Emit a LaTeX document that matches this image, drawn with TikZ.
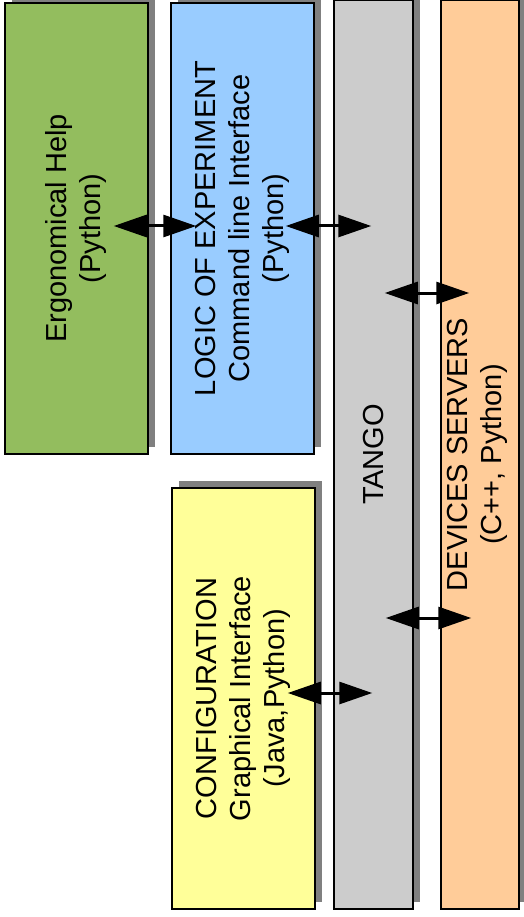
\documentclass[tikz,border=0pt]{standalone}
\usepackage{fontspec}
\setmainfont{Liberation Sans}
\usepackage{tikz}
\usetikzlibrary{arrows.meta,shadows}

\definecolor{HelpGreen}{RGB}{147,189,94}
\definecolor{LogicBlue}{RGB}{153,204,255}
\definecolor{ConfYellow}{RGB}{255,255,153}
\definecolor{TangoGray}{RGB}{204,204,204}
\definecolor{DevOrange}{RGB}{255,204,153}
\definecolor{ShadowGray}{RGB}{128,128,128}

\begin{document}
\begin{tikzpicture}[x=1pt, y=-1pt,
	box/.style={draw, line width=1.5pt, rectangle, inner sep=0pt, drop shadow={shadow xshift=7pt, shadow yshift=7pt, fill=ShadowGray, opacity=1}},
	boxtext/.style={rotate=90, align=center, inner sep=0pt, font=\fontsize{29}{34}\selectfont},
	link/.style={{Triangle[length=33pt, width=22pt]}-{Triangle[length=33pt, width=22pt]}, line width=3pt}]
	\useasboundingbox (0,0) rectangle (524,917);

	\node[box, fill=HelpGreen, minimum width=143pt, minimum height=451pt] (help) at (76.5,228.5) {};
	\node[box, fill=LogicBlue, minimum width=143pt, minimum height=451pt] (logic) at (242.5,228.5) {};
	\node[box, fill=ConfYellow, minimum width=143pt, minimum height=421pt] (config) at (243.5,698.5) {};
	\node[box, fill=TangoGray, minimum width=79pt, minimum height=909pt] (tango) at (373.5,454.5) {};
	\node[box, fill=DevOrange, minimum width=78pt, minimum height=909pt] (devices) at (480,454.5) {};

	\node[boxtext] (help text) at (help.center) {Ergonomical Help\\(Python)};
	\node[boxtext] (logic text) at (logic.center) {LOGIC OF EXPERIMENT\\Command line Interface\\(Python)};
	\node[boxtext] (config text) at (config.center) {CONFIGURATION\\Graphical Interface\\(Java,Python)};
	\node[boxtext] (tango text) at (tango.center) {TANGO};
	\node[boxtext] (devices text) at ([xshift=-3pt]devices.center) {DEVICES SERVERS\\(C++, Python)};

	\draw[link] ([xshift=-35pt, yshift=2.5pt]help.east) -- ([xshift=26pt, yshift=2.5pt]logic.west);
	\draw[link] ([xshift=-29pt, yshift=2.5pt]logic.east) -- ([xshift=38pt, yshift=228.5pt]tango.west);
	\draw[link] ([xshift=-29pt, yshift=161.5pt]tango.east) -- ([xshift=29pt, yshift=161.5pt]devices.west);
	\draw[link] ([xshift=-28pt, yshift=-163.5pt]tango.east) -- ([xshift=31pt, yshift=-163.5pt]devices.west);
	\draw[link] ([xshift=-28pt, yshift=5.5pt]config.east) -- ([xshift=39pt, yshift=-238.5pt]tango.west);

\end{tikzpicture}
\end{document}
